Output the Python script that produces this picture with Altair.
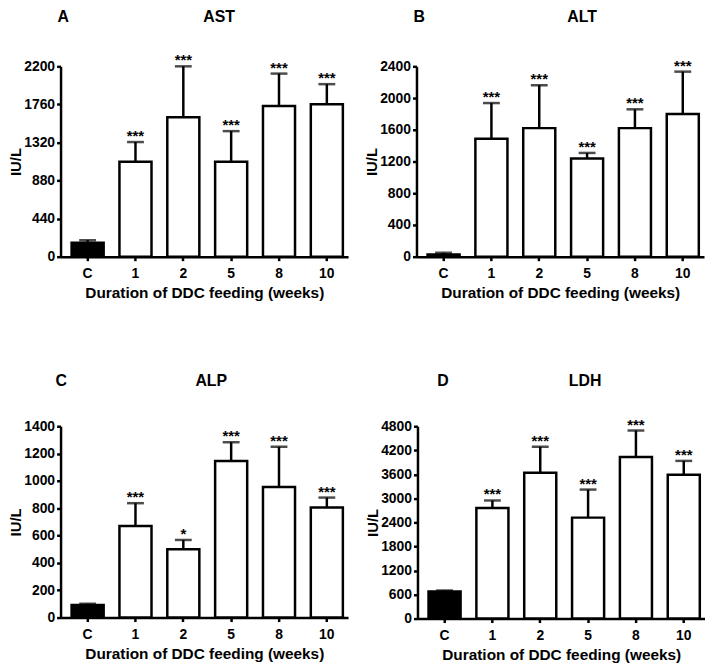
import altair as alt
import pandas as pd

categories = ["C", "1", "2", "5", "8", "10"]
groups = ["control", "ddc", "ddc", "ddc", "ddc", "ddc"]
panel_letters = ["A", "B", "C", "D"]
panel_names = ["AST", "ALT", "ALP", "LDH"]

ast_mean = [160, 1096, 1612, 1096, 1742, 1761]
ast_upper = [191, 1325, 2200, 1451, 2116, 1994]
ast_sig = ["", "***", "***", "***", "***", "***"]

alt_mean = [29, 1487, 1621, 1237, 1621, 1800]
alt_upper = [50, 1937, 2162, 1308, 1858, 2333]
alt_sig = ["", "***", "***", "***", "***", "***"]

alp_mean = [92, 670, 500, 1145, 956, 805]
alp_upper = [102, 837, 568, 1283, 1250, 878]
alp_sig = ["", "***", "*", "***", "***", "***"]

ldh_mean = [675, 2758, 3639, 2519, 4034, 3590]
ldh_upper = [700, 2947, 4289, 3219, 4693, 3935]
ldh_sig = ["", "***", "***", "***", "***", "***"]

y_max = [2200, 2400, 1400, 4800]
y_step = [440, 400, 200, 600]

FONT = "Liberation Sans"
W = 290


def panel(i, mean, upper, sig, height, title_y, letter_x, name_x):
    df = pd.DataFrame({"week": categories, "mean": mean, "upper": upper,
                       "sig": sig, "group": groups})
    xscale = alt.Scale(paddingInner=0.33, paddingOuter=0.17, align=0.68)
    xaxis = alt.Axis(title="Duration of DDC feeding (weeks)", labelAngle=0,
                     labelPadding=6, titlePadding=5, titleFontSize=15.5)
    yscale = alt.Scale(domain=[0, y_max[i]], nice=False, zero=True)
    yaxis = alt.Axis(values=list(range(0, y_max[i] + 1, y_step[i])), title="IU/L",
                     format="d", labelOverlap=False,
                     titleFontSize=15, titlePadding=0, labelPadding=2)

    def xs():
        return alt.X("week:N", sort=categories, scale=xscale, axis=xaxis)

    def ys(field):
        return alt.Y(field, scale=yscale, axis=yaxis)

    base = alt.Chart(df)
    bars = base.mark_bar(stroke="black", strokeWidth=2.5).encode(
        x=xs(),
        y=ys("mean:Q"),
        fill=alt.Fill("group:N", scale=alt.Scale(domain=["control", "ddc"],
                                                 range=["black", "white"]), legend=None),
    )
    err = base.mark_rule(strokeWidth=2.5, color="black").encode(
        x=xs(), y=ys("mean:Q"), y2="upper:Q")
    cap = base.mark_tick(orient="horizontal", size=17, thickness=2.5, color="black").encode(
        x=xs(), y=ys("upper:Q"))
    stars = base.mark_text(fontSize=15, fontWeight="bold", font=FONT, baseline="alphabetic",
                           dy=-1, color="black").encode(
        x=xs(), y=ys("upper:Q"), text="sig:N")
    tdf = pd.DataFrame({"letter": [panel_letters[i]], "name": [panel_names[i]]})
    letter = alt.Chart(tdf).mark_text(fontSize=16, fontWeight="bold", font=FONT, align="left",
                                      baseline="middle", color="black").encode(
        x=alt.value(letter_x), y=alt.value(title_y), text="letter:N")
    name = alt.Chart(tdf).mark_text(fontSize=16, fontWeight="bold", font=FONT, align="center",
                                    baseline="middle", color="black").encode(
        x=alt.value(name_x), y=alt.value(title_y), text="name:N")
    return alt.layer(bars, err, cap, stars, letter, name).properties(width=W, height=height)


pa = panel(0, ast_mean, ast_upper, ast_sig, 192, -50, -3, 160)
pb = panel(1, alt_mean, alt_upper, alt_sig, 192, -50, -3, 167)
pc = panel(2, alp_mean, alp_upper, alp_sig, 193, -46, -5, 152)
pd_ = panel(3, ldh_mean, ldh_upper, ldh_sig, 194, -46, 20, 169)

chart = alt.vconcat(
    alt.hconcat(pa, pb, spacing=16),
    alt.hconcat(pc, pd_, spacing=17),
    spacing=72,
).properties(padding={"top": -2, "left": 0, "right": 0, "bottom": 0}).configure_view(
    stroke=None
).configure_axis(
    domainColor="black", domainWidth=2.5, tickColor="black", tickWidth=2.5, tickSize=4,
    labelFont=FONT, labelFontWeight="bold", labelFontSize=14, labelColor="black",
    titleFont=FONT, titleFontWeight="bold", titleColor="black", grid=False,
    labelOverlap=False,
)

chart.save("out.html", embed_options={"renderer": "svg", "actions": False})
